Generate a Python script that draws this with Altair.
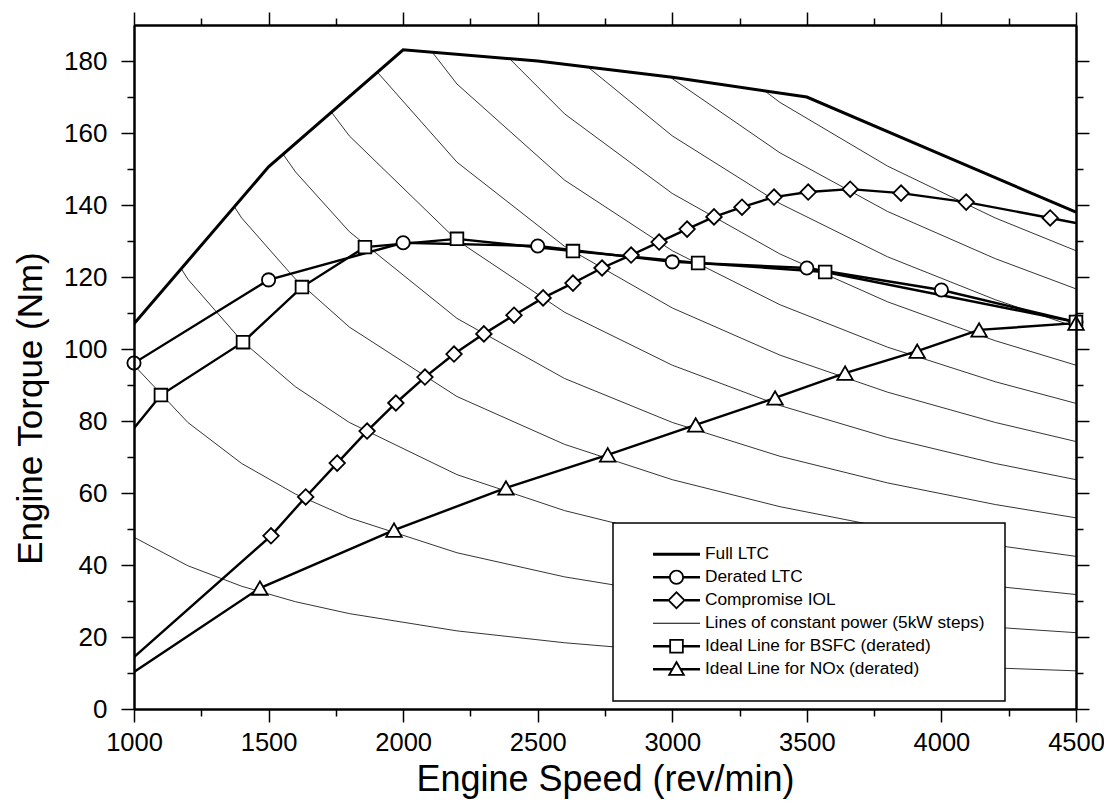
import altair as alt
import pandas as pd

# ---------------- data ----------------
full_speed = [1000, 1500, 2000, 2500, 3000, 3500, 4000, 4500]
full_torque = [107.0, 150.6, 183.1, 180.0, 175.5, 170.0, 154.0, 138.0]

derated_speed = [1000, 1500, 2000, 2500, 3000, 3500, 4000, 4500]
derated_torque = [96.1, 119.2, 129.5, 128.6, 124.2, 122.5, 116.4, 107.5]

bsfc_speed = [1000, 1100, 1405, 1624, 1858, 2200, 2631, 3096, 3568, 4500]
bsfc_torque = [78.0, 87.2, 101.9, 117.2, 128.3, 130.6, 127.2, 123.9, 121.4, 107.5]

iol_speed = [1000, 1509, 1638, 1755, 1866, 1973, 2081, 2189, 2300, 2412, 2520,
             2631, 2739, 2847, 2951, 3055, 3155, 3259, 3378, 3505, 3661, 3850,
             4092, 4404, 4500]
iol_torque = [14.4, 48.1, 58.9, 68.3, 77.2, 85.0, 92.2, 98.6, 104.2, 109.4, 114.2,
              118.3, 122.5, 126.1, 129.7, 133.3, 136.7, 139.4, 142.2, 143.6, 144.4,
              143.3, 140.8, 136.4, 135.0]

nox_speed = [1000, 1468, 1966, 2382, 2760, 3087, 3382, 3642, 3910, 4140, 4500]
nox_torque = [10.3, 33.6, 49.7, 61.4, 70.6, 78.9, 86.4, 93.3, 99.4, 105.3, 107.2]

# lines of constant power (5 kW steps), read at these speeds
power_speed = [1000, 1200, 1400, 1600, 1800, 2200, 2600, 3000, 3400, 3800, 4200, 4500]
power_kw = [5, 10, 15, 20, 25, 30, 35, 40, 45, 50, 55, 60]
power_torque = [
    [47.7, 39.8, 34.1, 29.8, 26.5, 21.7, 18.4, 15.9, 14.0, 12.6, 11.4, 10.6],
    [95.5, 79.6, 68.2, 59.7, 53.1, 43.4, 36.7, 31.8, 28.1, 25.1, 22.7, 21.2],
    [143.2, 119.4, 102.3, 89.5, 79.6, 65.1, 55.1, 47.7, 42.1, 37.7, 34.1, 31.8],
    [191.0, 159.2, 136.4, 119.4, 106.1, 86.8, 73.5, 63.7, 56.2, 50.3, 45.5, 42.4],
    [238.7, 198.9, 170.5, 149.2, 132.6, 108.5, 91.8, 79.6, 70.2, 62.8, 56.8, 53.1],
    [286.5, 238.7, 204.6, 179.0, 159.2, 130.2, 110.2, 95.5, 84.3, 75.4, 68.2, 63.7],
    [334.2, 278.5, 238.7, 208.9, 185.7, 151.9, 128.5, 111.4, 98.3, 88.0, 79.6, 74.3],
    [382.0, 318.3, 272.8, 238.7, 212.2, 173.6, 146.9, 127.3, 112.3, 100.5, 90.9, 84.9],
    [429.7, 358.1, 306.9, 268.6, 238.7, 195.3, 165.3, 143.2, 126.4, 113.1, 102.3, 95.5],
    [477.5, 397.9, 341.0, 298.4, 265.3, 217.0, 183.6, 159.2, 140.4, 125.6, 113.7, 106.1],
    [525.2, 437.7, 375.2, 328.3, 291.8, 238.7, 202.0, 175.1, 154.5, 138.2, 125.1, 116.7],
    [573.0, 477.5, 409.3, 358.1, 318.3, 260.4, 220.4, 191.0, 168.5, 150.8, 136.4, 127.3],
]

x_major = [1000, 1500, 2000, 2500, 3000, 3500, 4000, 4500]
x_minor = [1250, 1750, 2250, 2750, 3250, 3750, 4250]
y_major = [0, 20, 40, 60, 80, 100, 120, 140, 160, 180]
y_minor = [10, 30, 50, 70, 90, 110, 130, 150, 170]
y_top = 190

legend_labels = [
    "Full LTC",
    "Derated LTC",
    "Compromise IOL",
    "Lines of constant power (5kW steps)",
    "Ideal Line for BSFC (derated)",
    "Ideal Line for NOx (derated)",
]

# ---------------- tables ----------------
def frame(sp, tq):
    return pd.DataFrame({"speed": sp, "torque": tq})

full_df = frame(full_speed, full_torque)
der_df = frame(derated_speed, derated_torque)
bsfc_df = frame(bsfc_speed, bsfc_torque)
iol_df = frame(iol_speed, iol_torque)
nox_df = frame(nox_speed, nox_torque)

rows = []
for kw, tqs in zip(power_kw, power_torque):
    for s, t in zip(power_speed, tqs):
        rows.append({"kw": kw, "speed": s, "torque": t})
power_df = pd.DataFrame(rows)

FONT = "Liberation Sans"
XS = alt.Scale(domain=[1000, 4500], nice=False, zero=False)
YS = alt.Scale(domain=[0, y_top], nice=False, zero=False)

common = dict(domainColor="black", domainWidth=2, tickColor="black", tickWidth=1.5,
              grid=False, zindex=1, labelFont=FONT, labelColor="black",
              titleFont=FONT, titleColor="black", titleFontWeight="normal")

ax_bottom = alt.Axis(orient="bottom", values=x_major, format="d", tickSize=13,
                     labelFontSize=25.5, labelPadding=8, title="Engine Speed (rev/min)",
                     titleFontSize=36, titlePadding=7, labelFlush=False, **common)
ax_bottom_minor = alt.Axis(orient="bottom", values=x_minor, tickSize=7, labels=False,
                           title=None, **common)
ax_top = alt.Axis(orient="top", values=x_major, tickSize=13, labels=False, title=None, **common)
ax_top_minor = alt.Axis(orient="top", values=x_minor, tickSize=7, labels=False, title=None, **common)
ax_left = alt.Axis(orient="left", values=y_major, format="d", tickSize=13,
                   labelFontSize=26, labelPadding=14, title="Engine Torque (Nm)",
                   titleFontSize=35, titlePadding=15, titleY=383, **common)
ax_left_minor = alt.Axis(orient="left", values=y_minor, tickSize=7, labels=False, title=None, **common)
ax_right = alt.Axis(orient="right", values=y_major, tickSize=13, labels=False, title=None, **common)
ax_right_minor = alt.Axis(orient="right", values=y_minor, tickSize=7, labels=False, title=None, **common)


def xy(xaxis=None, yaxis=None):
    return dict(
        x=alt.X("speed:Q", scale=XS, axis=xaxis),
        y=alt.Y("torque:Q", scale=YS, axis=yaxis),
    )

power_layer = alt.Chart(power_df).mark_line(color="black", strokeWidth=0.8, clip=True).encode(
    detail="kw:N", **xy(ax_bottom, ax_left)
)

# white cover above the Full LTC envelope (power lines end at the envelope)
mask_layer = alt.Chart(full_df).mark_area(color="white", opacity=1, clip=True).encode(
    y2=alt.datum(y_top), **xy(ax_top, ax_right)
)

full_layer = alt.Chart(full_df).mark_line(color="black", strokeWidth=3, clip=True).encode(
    **xy(ax_bottom_minor, ax_left_minor)
)

der_line = alt.Chart(der_df).mark_line(color="black", strokeWidth=2.4, clip=True).encode(
    **xy(ax_top_minor, ax_right_minor)
)
bsfc_line = alt.Chart(bsfc_df).mark_line(color="black", strokeWidth=2.4, clip=True).encode(**xy())
iol_line = alt.Chart(iol_df).mark_line(color="black", strokeWidth=2.4, clip=True).encode(**xy())
nox_line = alt.Chart(nox_df).mark_line(color="black", strokeWidth=2.4, clip=True).encode(**xy())


def markers(df, shape, size):
    return alt.Chart(df).mark_point(shape=shape, size=size, filled=True, fill="white",
                                    stroke="black", strokeWidth=1.8, opacity=1).encode(**xy())

der_pts = markers(der_df, "circle", 175)
bsfc_pts = markers(bsfc_df.iloc[1:], "square", 160)
iol_pts = markers(iol_df.iloc[1:-1], "diamond", 240)
nox_pts = markers(nox_df.iloc[1:], "triangle-up", 240)

# legend symbols (filled outlines, unit = 23.5 px): a line with a hollow marker
def bar(x0, x1, h):
    return f"M{x0},{-h}L{x1},{-h}L{x1},{h}L{x0},{h}Z"

legend_paths = [
    bar(-1, 1, 0.064),
    bar(-1, -0.30, 0.051) + bar(0.30, 1, 0.051)
    + "M0.318,0A0.318,0.318 0 1,1 -0.318,0A0.318,0.318 0 1,1 0.318,0Z"
    + "M0.242,0A0.242,0.242 0 1,0 -0.242,0A0.242,0.242 0 1,0 0.242,0Z",
    bar(-1, -0.36, 0.051) + bar(0.36, 1, 0.051)
    + "M-0.394,0L0,-0.394L0.394,0L0,0.394Z"
    + "M-0.286,0L0,0.286L0.286,0L0,-0.286Z",
    bar(-1, 1, 0.019),
    bar(-1, -0.29, 0.051) + bar(0.29, 1, 0.051)
    + "M-0.308,-0.308L0.308,-0.308L0.308,0.308L-0.308,0.308Z"
    + "M-0.232,-0.232L-0.232,0.232L0.232,0.232L0.232,-0.232Z",
    bar(-1, -0.2, 0.051) + bar(0.2, 1, 0.051)
    + "M0,-0.38L0.38,0.28L-0.38,0.28Z"
    + "M0,-0.225L-0.245,0.2L0.245,0.2Z",
]

legend_df = pd.DataFrame({"label": legend_labels})
legend_layer = alt.Chart(legend_df).mark_point(
    filled=True, color="black", strokeWidth=0, clip=True
).encode(
    x=alt.value(-2000),
    y=alt.value(-2000),
    shape=alt.Shape(
        "label:N",
        scale=alt.Scale(domain=legend_labels, range=legend_paths),
        legend=alt.Legend(
            title=None, orient="none", legendX=479, legendY=498,
            padding=20, symbolOffset=20, strokeColor="black", fillColor="white",
            symbolSize=2209, symbolFillColor="black", symbolStrokeWidth=0,
            symbolOpacity=1, labelFont=FONT, labelFontSize=17.3,
            labelColor="black", labelOffset=5, labelLimit=500, rowPadding=0,
            clipHeight=22.5,
        ),
    ),
)

chart = alt.layer(
    power_layer, mask_layer, full_layer, der_line, bsfc_line, iol_line, nox_line,
    der_pts, bsfc_pts, iol_pts, nox_pts, legend_layer,
).resolve_axis(x="independent", y="independent").resolve_scale(shape="independent").properties(
    width=942, height=684,
    autosize=alt.AutoSizeParams(type="none"),
    padding={"left": 126, "top": 17, "right": 28, "bottom": 90},
    background="white",
).configure_view(strokeWidth=0).configure_legend(strokeWidth=1.5)

chart.save("out.html", embed_options={"renderer": "svg", "actions": False})
